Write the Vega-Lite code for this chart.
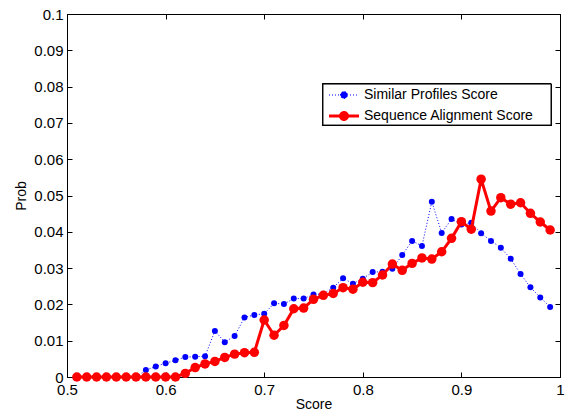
{
  "$schema": "https://vega.github.io/schema/vega-lite/v6.json",
  "width": 493,
  "height": 363,
  "autosize": {"type": "none"},
  "padding": {"left": 67, "top": 14, "right": 8, "bottom": 33},
  "background": "white",
  "config": {
    "view": {"stroke": "black", "strokeWidth": 1},
    "font": "Liberation Sans",
    "axis": {
      "labelFont": "Liberation Sans",
      "titleFont": "Liberation Sans",
      "labelFontSize": 15,
      "titleFontSize": 14,
      "titleFontWeight": "normal",
      "labelColor": "black",
      "titleColor": "black",
      "domainColor": "black",
      "tickColor": "black",
      "tickSize": -5,
      "grid": false
    }
  },
  "data": {
    "values": [
      {"score": 0.51, "prob": 0, "series": "Similar Profiles Score"},
      {"score": 0.52, "prob": 0, "series": "Similar Profiles Score"},
      {"score": 0.53, "prob": 0, "series": "Similar Profiles Score"},
      {"score": 0.54, "prob": 0, "series": "Similar Profiles Score"},
      {"score": 0.55, "prob": 0, "series": "Similar Profiles Score"},
      {"score": 0.56, "prob": 0, "series": "Similar Profiles Score"},
      {"score": 0.57, "prob": 0, "series": "Similar Profiles Score"},
      {"score": 0.58, "prob": 0.0019, "series": "Similar Profiles Score"},
      {"score": 0.59, "prob": 0.0029, "series": "Similar Profiles Score"},
      {"score": 0.60, "prob": 0.0038, "series": "Similar Profiles Score"},
      {"score": 0.61, "prob": 0.0046, "series": "Similar Profiles Score"},
      {"score": 0.62, "prob": 0.0055, "series": "Similar Profiles Score"},
      {"score": 0.63, "prob": 0.0056, "series": "Similar Profiles Score"},
      {"score": 0.64, "prob": 0.0057, "series": "Similar Profiles Score"},
      {"score": 0.65, "prob": 0.0127, "series": "Similar Profiles Score"},
      {"score": 0.66, "prob": 0.0096, "series": "Similar Profiles Score"},
      {"score": 0.67, "prob": 0.0113, "series": "Similar Profiles Score"},
      {"score": 0.68, "prob": 0.0164, "series": "Similar Profiles Score"},
      {"score": 0.69, "prob": 0.0171, "series": "Similar Profiles Score"},
      {"score": 0.70, "prob": 0.0174, "series": "Similar Profiles Score"},
      {"score": 0.71, "prob": 0.0203, "series": "Similar Profiles Score"},
      {"score": 0.72, "prob": 0.0201, "series": "Similar Profiles Score"},
      {"score": 0.73, "prob": 0.0216, "series": "Similar Profiles Score"},
      {"score": 0.74, "prob": 0.0216, "series": "Similar Profiles Score"},
      {"score": 0.75, "prob": 0.0227, "series": "Similar Profiles Score"},
      {"score": 0.76, "prob": 0.0229, "series": "Similar Profiles Score"},
      {"score": 0.77, "prob": 0.0246, "series": "Similar Profiles Score"},
      {"score": 0.78, "prob": 0.0272, "series": "Similar Profiles Score"},
      {"score": 0.79, "prob": 0.0257, "series": "Similar Profiles Score"},
      {"score": 0.80, "prob": 0.0271, "series": "Similar Profiles Score"},
      {"score": 0.81, "prob": 0.0289, "series": "Similar Profiles Score"},
      {"score": 0.82, "prob": 0.029, "series": "Similar Profiles Score"},
      {"score": 0.83, "prob": 0.0298, "series": "Similar Profiles Score"},
      {"score": 0.84, "prob": 0.0336, "series": "Similar Profiles Score"},
      {"score": 0.85, "prob": 0.0375, "series": "Similar Profiles Score"},
      {"score": 0.86, "prob": 0.0361, "series": "Similar Profiles Score"},
      {"score": 0.87, "prob": 0.0483, "series": "Similar Profiles Score"},
      {"score": 0.88, "prob": 0.0397, "series": "Similar Profiles Score"},
      {"score": 0.89, "prob": 0.0435, "series": "Similar Profiles Score"},
      {"score": 0.90, "prob": 0.042, "series": "Similar Profiles Score"},
      {"score": 0.91, "prob": 0.0425, "series": "Similar Profiles Score"},
      {"score": 0.92, "prob": 0.0396, "series": "Similar Profiles Score"},
      {"score": 0.93, "prob": 0.0375, "series": "Similar Profiles Score"},
      {"score": 0.94, "prob": 0.0356, "series": "Similar Profiles Score"},
      {"score": 0.95, "prob": 0.0326, "series": "Similar Profiles Score"},
      {"score": 0.96, "prob": 0.0284, "series": "Similar Profiles Score"},
      {"score": 0.97, "prob": 0.0247, "series": "Similar Profiles Score"},
      {"score": 0.98, "prob": 0.0219, "series": "Similar Profiles Score"},
      {"score": 0.99, "prob": 0.0193, "series": "Similar Profiles Score"},
      {"score": 0.51, "prob": 0, "series": "Sequence Alignment Score"},
      {"score": 0.52, "prob": 0, "series": "Sequence Alignment Score"},
      {"score": 0.53, "prob": 0, "series": "Sequence Alignment Score"},
      {"score": 0.54, "prob": 0, "series": "Sequence Alignment Score"},
      {"score": 0.55, "prob": 0, "series": "Sequence Alignment Score"},
      {"score": 0.56, "prob": 0, "series": "Sequence Alignment Score"},
      {"score": 0.57, "prob": 0, "series": "Sequence Alignment Score"},
      {"score": 0.58, "prob": 0, "series": "Sequence Alignment Score"},
      {"score": 0.59, "prob": 0, "series": "Sequence Alignment Score"},
      {"score": 0.60, "prob": 0, "series": "Sequence Alignment Score"},
      {"score": 0.61, "prob": 0, "series": "Sequence Alignment Score"},
      {"score": 0.62, "prob": 0.001, "series": "Sequence Alignment Score"},
      {"score": 0.63, "prob": 0.0026, "series": "Sequence Alignment Score"},
      {"score": 0.64, "prob": 0.0036, "series": "Sequence Alignment Score"},
      {"score": 0.65, "prob": 0.0043, "series": "Sequence Alignment Score"},
      {"score": 0.66, "prob": 0.0054, "series": "Sequence Alignment Score"},
      {"score": 0.67, "prob": 0.0063, "series": "Sequence Alignment Score"},
      {"score": 0.68, "prob": 0.0067, "series": "Sequence Alignment Score"},
      {"score": 0.69, "prob": 0.0068, "series": "Sequence Alignment Score"},
      {"score": 0.70, "prob": 0.0157, "series": "Sequence Alignment Score"},
      {"score": 0.71, "prob": 0.0115, "series": "Sequence Alignment Score"},
      {"score": 0.72, "prob": 0.0142, "series": "Sequence Alignment Score"},
      {"score": 0.73, "prob": 0.0188, "series": "Sequence Alignment Score"},
      {"score": 0.74, "prob": 0.019, "series": "Sequence Alignment Score"},
      {"score": 0.75, "prob": 0.0214, "series": "Sequence Alignment Score"},
      {"score": 0.76, "prob": 0.0225, "series": "Sequence Alignment Score"},
      {"score": 0.77, "prob": 0.023, "series": "Sequence Alignment Score"},
      {"score": 0.78, "prob": 0.0246, "series": "Sequence Alignment Score"},
      {"score": 0.79, "prob": 0.0242, "series": "Sequence Alignment Score"},
      {"score": 0.80, "prob": 0.0261, "series": "Sequence Alignment Score"},
      {"score": 0.81, "prob": 0.026, "series": "Sequence Alignment Score"},
      {"score": 0.82, "prob": 0.0281, "series": "Sequence Alignment Score"},
      {"score": 0.83, "prob": 0.0311, "series": "Sequence Alignment Score"},
      {"score": 0.84, "prob": 0.0294, "series": "Sequence Alignment Score"},
      {"score": 0.85, "prob": 0.0313, "series": "Sequence Alignment Score"},
      {"score": 0.86, "prob": 0.0328, "series": "Sequence Alignment Score"},
      {"score": 0.87, "prob": 0.0325, "series": "Sequence Alignment Score"},
      {"score": 0.88, "prob": 0.0345, "series": "Sequence Alignment Score"},
      {"score": 0.89, "prob": 0.0382, "series": "Sequence Alignment Score"},
      {"score": 0.90, "prob": 0.0428, "series": "Sequence Alignment Score"},
      {"score": 0.91, "prob": 0.0407, "series": "Sequence Alignment Score"},
      {"score": 0.92, "prob": 0.0545, "series": "Sequence Alignment Score"},
      {"score": 0.93, "prob": 0.0457, "series": "Sequence Alignment Score"},
      {"score": 0.94, "prob": 0.0494, "series": "Sequence Alignment Score"},
      {"score": 0.95, "prob": 0.0476, "series": "Sequence Alignment Score"},
      {"score": 0.96, "prob": 0.048, "series": "Sequence Alignment Score"},
      {"score": 0.97, "prob": 0.0451, "series": "Sequence Alignment Score"},
      {"score": 0.98, "prob": 0.0427, "series": "Sequence Alignment Score"},
      {"score": 0.99, "prob": 0.0405, "series": "Sequence Alignment Score"}
    ]
  },
  "layer": [
    {
      "transform": [{"filter": "datum.series === 'Similar Profiles Score'"}],
      "mark": {"type": "line", "strokeWidth": 1, "strokeDash": [1, 2]},
      "encoding": {
        "x": {"field": "score", "type": "quantitative",
              "scale": {"domain": [0.5, 1], "nice": false, "zero": false},
              "axis": {"orient": "bottom", "title": "Score", "values": [0.5, 0.6, 0.7, 0.8, 0.9, 1], "format": "~g", "labelPadding": 10, "titlePadding": 0, "labelFlush": false}},
        "y": {"field": "prob", "type": "quantitative",
              "scale": {"domain": [0, 0.1], "nice": false},
              "axis": {"orient": "left", "title": "Prob", "values": [0, 0.01, 0.02, 0.03, 0.04, 0.05, 0.06, 0.07, 0.08, 0.09, 0.1], "format": "~g", "labelPadding": 9, "titlePadding": 5, "labelFlush": false}},
        "color": {"field": "series", "type": "nominal",
                  "scale": {"domain": ["Similar Profiles Score", "Sequence Alignment Score"], "range": ["#0000ff", "#ff0000"]},
                  "legend": {
                    "title": null,
                    "orient": "none",
                    "legendX": 256,
                    "legendY": 70,
                    "padding": 4,
                    "symbolType": "M-1,0L5,0M1.3,0A0.7,0.7,0,1,1,2.7,0A0.7,0.7,0,1,1,1.3,0Z",
                    "symbolSize": 100,
                    "labelFont": "Liberation Sans",
                    "labelFontSize": 14,
                    "labelColor": "black",
                    "labelOffset": 23,
                    "labelLimit": 400,
                    "rowPadding": 4,
                    "encode": {
                      "symbols": {"update": {
                        "fill": {"scale": "color", "field": "value"},
                        "stroke": {"scale": "color", "field": "value"},
                        "strokeWidth": {"signal": "datum.value === 'Sequence Alignment Score' ? 3 : 1"},
                        "strokeDash": {"signal": "datum.value === 'Sequence Alignment Score' ? [1, 0] : [1, 2]"},
                        "opacity": {"value": 1}}}
                    }
                  }}
      }
    },
    {
      "transform": [{"filter": "datum.series === 'Similar Profiles Score'"}],
      "mark": {"type": "point", "filled": true, "color": "#0000ff", "size": 36, "opacity": 1},
      "encoding": {
        "x": {"field": "score", "type": "quantitative", "axis": null},
        "y": {"field": "prob", "type": "quantitative", "axis": null}
      }
    },
    {
      "transform": [{"filter": "datum.series === 'Sequence Alignment Score'"}],
      "mark": {"type": "line", "strokeWidth": 3},
      "encoding": {
        "x": {"field": "score", "type": "quantitative",
              "axis": {"orient": "top", "title": null, "labels": false, "values": [0.5, 0.6, 0.7, 0.8, 0.9, 1]}},
        "y": {"field": "prob", "type": "quantitative",
              "axis": {"orient": "right", "title": null, "labels": false, "values": [0, 0.01, 0.02, 0.03, 0.04, 0.05, 0.06, 0.07, 0.08, 0.09, 0.1]}},
        "color": {"field": "series", "type": "nominal"}
      }
    },
    {
      "transform": [{"filter": "datum.series === 'Sequence Alignment Score'"}],
      "mark": {"type": "point", "filled": true, "color": "#ff0000", "size": 90, "opacity": 1},
      "encoding": {
        "x": {"field": "score", "type": "quantitative", "axis": null},
        "y": {"field": "prob", "type": "quantitative", "axis": null}
      }
    },
    {
      "mark": {"type": "rect", "fill": "white", "stroke": "black", "strokeWidth": 1},
      "encoding": {
        "x": {"datum": 0.7596, "type": "quantitative", "axis": null},
        "x2": {"datum": 0.9909},
        "y": {"datum": 0.0807, "type": "quantitative", "axis": null},
        "y2": {"datum": 0.0694}
      }
    }
  ]
}
